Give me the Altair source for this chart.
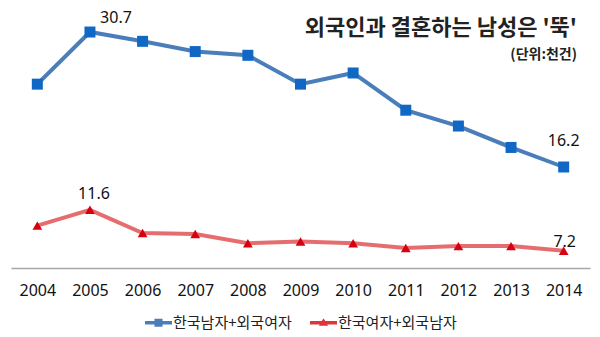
import altair as alt
import pandas as pd

years = ["2004", "2005", "2006", "2007", "2008", "2009", "2010", "2011", "2012", "2013", "2014"]
series_names = ["한국남자+외국여자", "한국여자+외국남자"]
men_foreign_women = [25.1, 30.7, 29.7, 28.6, 28.2, 25.1, 26.3, 22.3, 20.6, 18.3, 16.2]
women_foreign_men = [9.9, 11.6, 9.1, 9.0, 8.0, 8.2, 8.0, 7.5, 7.7, 7.7, 7.2]
title_text = "외국인과 결혼하는 남성은 '뚝'"
unit_text = "(단위:천건)"

rows = []
for y, a, b in zip(years, men_foreign_women, women_foreign_men):
    rows.append({"year": y, "series": series_names[0], "value": a})
    rows.append({"year": y, "series": series_names[1], "value": b})
df = pd.DataFrame(rows)

blue_line = "#4a7ebb"
blue_mark = "#1068c4"
red_line = "#e35d5f"
red_mark = "#d60010"

x_enc = alt.X("year:O", scale=alt.Scale(padding=0.5),
              axis=alt.Axis(title=None, labelAngle=0, ticks=False, tickSize=0, grid=False,
                            domainColor="#a6a6a6", domainWidth=1.5, labelFontSize=16,
                            labelFont="Noto Sans", labelColor="#111111", labelPadding=14))
y_enc = alt.Y("value:Q", scale=alt.Scale(domain=[5.35, 34.14], nice=False, zero=False), axis=None)

base = alt.Chart(df).encode(x=x_enc, y=y_enc)
s0 = alt.datum.series == series_names[0]
s1 = alt.datum.series == series_names[1]

line_blue = base.transform_filter(s0).mark_line(color=blue_line, strokeWidth=4)
line_red = base.transform_filter(s1).mark_line(color=red_line, strokeWidth=4, opacity=0.9)
pts_blue = base.transform_filter(s0).mark_point(shape="square", filled=True, size=121,
                                                 color=blue_mark, opacity=1)
pts_red = base.transform_filter(s1).mark_point(shape="triangle-up", filled=True, size=95,
                                                color=red_mark, opacity=1)

legend_sq = "M-1,-0.13L1,-0.13L1,0.13L-1,0.13Z M-0.3,-0.3L0.3,-0.3L0.3,0.3L-0.3,0.3Z"
legend_tri = "M-1,-0.13L1,-0.13L1,0.13L-1,0.13Z M0,-0.34L0.34,0.22L-0.34,0.22Z"

legend_layer = base.mark_point(filled=True, size=0, opacity=1).encode(
    color=alt.Color("series:N", scale=alt.Scale(domain=series_names, range=[blue_line, "#e0343c"]),
                    legend=alt.Legend(title=None, orient="none", legendX=134, legendY=309,
                                      direction="horizontal", symbolSize=729, symbolOpacity=1,
                                      symbolStrokeWidth=0, labelFontSize=15,
                                      labelFont="Noto Sans CJK KR", labelColor="#222222",
                                      labelOffset=1, columnPadding=18, padding=0,
                                      labelLimit=300)),
    shape=alt.Shape("series:N", scale=alt.Scale(domain=series_names, range=[legend_sq, legend_tri])),
)

def label(series_filter, year, dx, dy):
    return base.transform_filter(series_filter & (alt.datum.year == year)).mark_text(
        dx=dx, dy=dy, fontSize=16, font="Noto Sans", color="#111111", align="center",
        baseline="middle").encode(text=alt.Text("value:Q", format=".1f"))

lab1 = label(s0, "2005", 26, -14)
lab2 = label(s1, "2005", 4, -16)
lab3 = label(s0, "2014", 0, -26)
lab4 = label(s1, "2014", 1, -9)

title_df = pd.DataFrame({"t": [title_text]})
unit_df = pd.DataFrame({"t": [unit_text]})
title_layer = alt.Chart(title_df).mark_text(font="Noto Sans CJK KR", fontWeight="bold", fontSize=22,
                                            align="right", baseline="alphabetic", color="#222222").encode(
    text="t:N", x=alt.value(566), y=alt.value(35))
unit_layer = alt.Chart(unit_df).mark_text(font="Noto Sans CJK KR", fontWeight="bold", fontSize=14,
                                          align="right", baseline="alphabetic", color="#222222").encode(
    text="t:N", x=alt.value(566), y=alt.value(59))

chart = alt.layer(line_blue, line_red, pts_blue, pts_red, legend_layer,
                  lab1, lab2, lab3, lab4, title_layer, unit_layer).properties(
    width=579, height=268,
    autosize=alt.AutoSizeParams(type="none"),
    padding={"left": 11, "top": 0, "right": 10, "bottom": 69},
    background="white",
).configure_view(stroke=None)

chart.save("out.html", embed_options={"renderer": "svg", "actions": False})
